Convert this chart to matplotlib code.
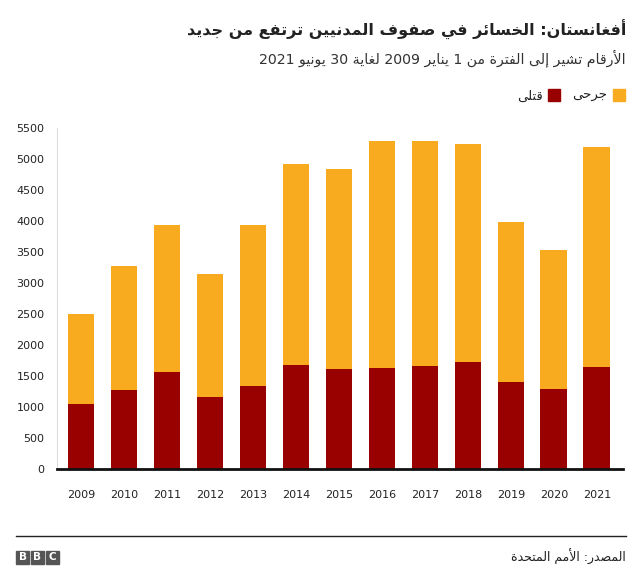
import re
import matplotlib
matplotlib.use("Agg")
import matplotlib.pyplot as plt
from matplotlib.patches import Rectangle
from matplotlib.lines import Line2D

# ---------------- data ----------------
years = ["2009", "2010", "2011", "2012", "2013", "2014", "2015",
         "2016", "2017", "2018", "2019", "2020", "2021"]
killed = [1040, 1280, 1570, 1155, 1345, 1680, 1605, 1635, 1665, 1730, 1405, 1295, 1650]
wounded = [1460, 1995, 2365, 1990, 2590, 3230, 3235, 3655, 3625, 3500, 2580, 2240, 3545]
yticks = [0, 500, 1000, 1500, 2000, 2500, 3000, 3500, 4000, 4500, 5000, 5500]

title = "أفغانستان: الخسائر في صفوف المدنيين ترتفع من جديد"
subtitle = "الأرقام تشير إلى الفترة من 1 يناير 2009 لغاية 30 يونيو 2021"
label_killed = "قتلى"
label_wounded = "جرحى"
source = "المصدر: الأمم المتحدة"

# ---------------- minimal Arabic shaping ----------------
_two = {0x0622: 0xFE81, 0x0623: 0xFE83, 0x0624: 0xFE85, 0x0625: 0xFE87,
        0x0627: 0xFE8D, 0x0629: 0xFE93, 0x062F: 0xFEA9, 0x0630: 0xFEAB,
        0x0631: 0xFEAD, 0x0632: 0xFEAF, 0x0648: 0xFEED, 0x0649: 0xFEEF}
_four = {0x0626: 0xFE89, 0x0628: 0xFE8F, 0x062A: 0xFE95, 0x062B: 0xFE99,
         0x062C: 0xFE9D, 0x062D: 0xFEA1, 0x062E: 0xFEA5, 0x0633: 0xFEB1,
         0x0634: 0xFEB5, 0x0635: 0xFEB9, 0x0636: 0xFEBD, 0x0637: 0xFEC1,
         0x0638: 0xFEC5, 0x0639: 0xFEC9, 0x063A: 0xFECD, 0x0641: 0xFED1,
         0x0642: 0xFED5, 0x0643: 0xFED9, 0x0644: 0xFEDD, 0x0645: 0xFEE1,
         0x0646: 0xFEE5, 0x0647: 0xFEE9, 0x064A: 0xFEF1}
_lamalef = {0x0622: 0xFEF5, 0x0623: 0xFEF7, 0x0625: 0xFEF9, 0x0627: 0xFEFB}


def _forms(cp):
    if cp in _four:
        b = _four[cp]
        return "D", (chr(b), chr(b + 1), chr(b + 2), chr(b + 3))
    if cp in _two:
        b = _two[cp]
        return "R", (chr(b), chr(b + 1), None, None)
    if cp == 0x0621:
        return "U", ("\uFE80", None, None, None)
    return None, None


def ar(text):
    units = []
    i = 0
    while i < len(text):
        cp = ord(text[i])
        if cp == 0x0644 and i + 1 < len(text) and ord(text[i + 1]) in _lamalef:
            b = _lamalef[ord(text[i + 1])]
            units.append(("R", (chr(b), chr(b + 1), None, None)))
            i += 2
            continue
        t, f = _forms(cp)
        units.append((t, f) if t else (None, text[i]))
        i += 1
    out = []
    for k, (t, f) in enumerate(units):
        if t is None:
            out.append(f)
            continue
        prev_j = k > 0 and units[k - 1][0] == "D" and t in ("D", "R")
        next_j = t == "D" and k + 1 < len(units) and units[k + 1][0] in ("D", "R")
        if prev_j and next_j:
            out.append(f[3])
        elif prev_j:
            out.append(f[1])
        elif next_j:
            out.append(f[2])
        else:
            out.append(f[0])
    vis = "".join(out)[::-1]
    vis = re.sub(r"[0-9]+", lambda m: m.group(0)[::-1], vis)
    return vis


# ---------------- figure ----------------
plt.rcParams["font.family"] = ["DejaVu Sans"]
W, H = 640, 571
fig = plt.figure(figsize=(W / 100, H / 100), dpi=100)
fig.patch.set_facecolor("white")

RED = "#990000"
ORANGE = "#F8AB1F"

ax = fig.add_axes([57 / W, 1 - 469 / H, (623 - 57) / W, (469 - 127.7) / H])
x = range(len(years))
ax.bar(x, killed, width=0.62, color=RED, zorder=2)
ax.bar(x, wounded, width=0.62, bottom=killed, color=ORANGE, zorder=2)

ax.set_xlim(-0.56, 12.61)
ax.set_ylim(0, 5500)
ax.set_yticks(yticks)
ax.set_yticklabels([str(v) for v in yticks], fontsize=8, color="#222222")
ax.set_xticks(list(x))
ax.set_xticklabels(years, fontsize=8, color="#222222")
ax.tick_params(axis="y", length=0, pad=9)
ax.tick_params(axis="x", length=0, pad=15)
for s in ["top", "right"]:
    ax.spines[s].set_visible(False)
ax.spines["left"].set_color("#dddddd")
ax.spines["left"].set_linewidth(0.8)
ax.spines["bottom"].set_color("#111111")
ax.spines["bottom"].set_linewidth(2)
ax.spines["bottom"].set_zorder(3)

# title & subtitle
fig.text(626 / W, 1 - 30 / H, ar(title), ha="right", va="center",
         fontsize=11.5, fontweight="bold", color="#222222")
fig.text(626 / W, 1 - 58 / H, ar(subtitle), ha="right", va="center",
         fontsize=10.2, color="#333333")

# legend
fig.add_artist(Rectangle((613 / W, 1 - 101 / H), 12 / W, 12 / H,
                         transform=fig.transFigure, color=ORANGE))
fig.text(607 / W, 1 - 96 / H, ar(label_wounded), ha="right", va="center",
         fontsize=9.5, color="#222222")
fig.add_artist(Rectangle((548 / W, 1 - 101 / H), 12 / W, 12 / H,
                         transform=fig.transFigure, color=RED))
fig.text(543 / W, 1 - 96 / H, ar(label_killed), ha="right", va="center",
         fontsize=9.5, color="#222222")

# footer
fig.add_artist(Line2D([16 / W, 626 / W], [1 - 536 / H, 1 - 536 / H],
                      transform=fig.transFigure, color="#222222", linewidth=1))
fig.text(626 / W, 1 - 557 / H, ar(source), ha="right", va="center",
         fontsize=9, color="#222222")
for k, ch in enumerate("BBC"):
    x0 = 16 + k * 15
    fig.add_artist(Rectangle((x0 / W, 1 - 564 / H), 13 / W, 13 / H,
                             transform=fig.transFigure, color="#555555"))
    fig.text((x0 + 6.5) / W, 1 - 557.5 / H, ch, ha="center", va="center",
             fontsize=7.5, fontweight="bold", color="white")

fig.savefig("out.png", dpi=100, facecolor="white")
